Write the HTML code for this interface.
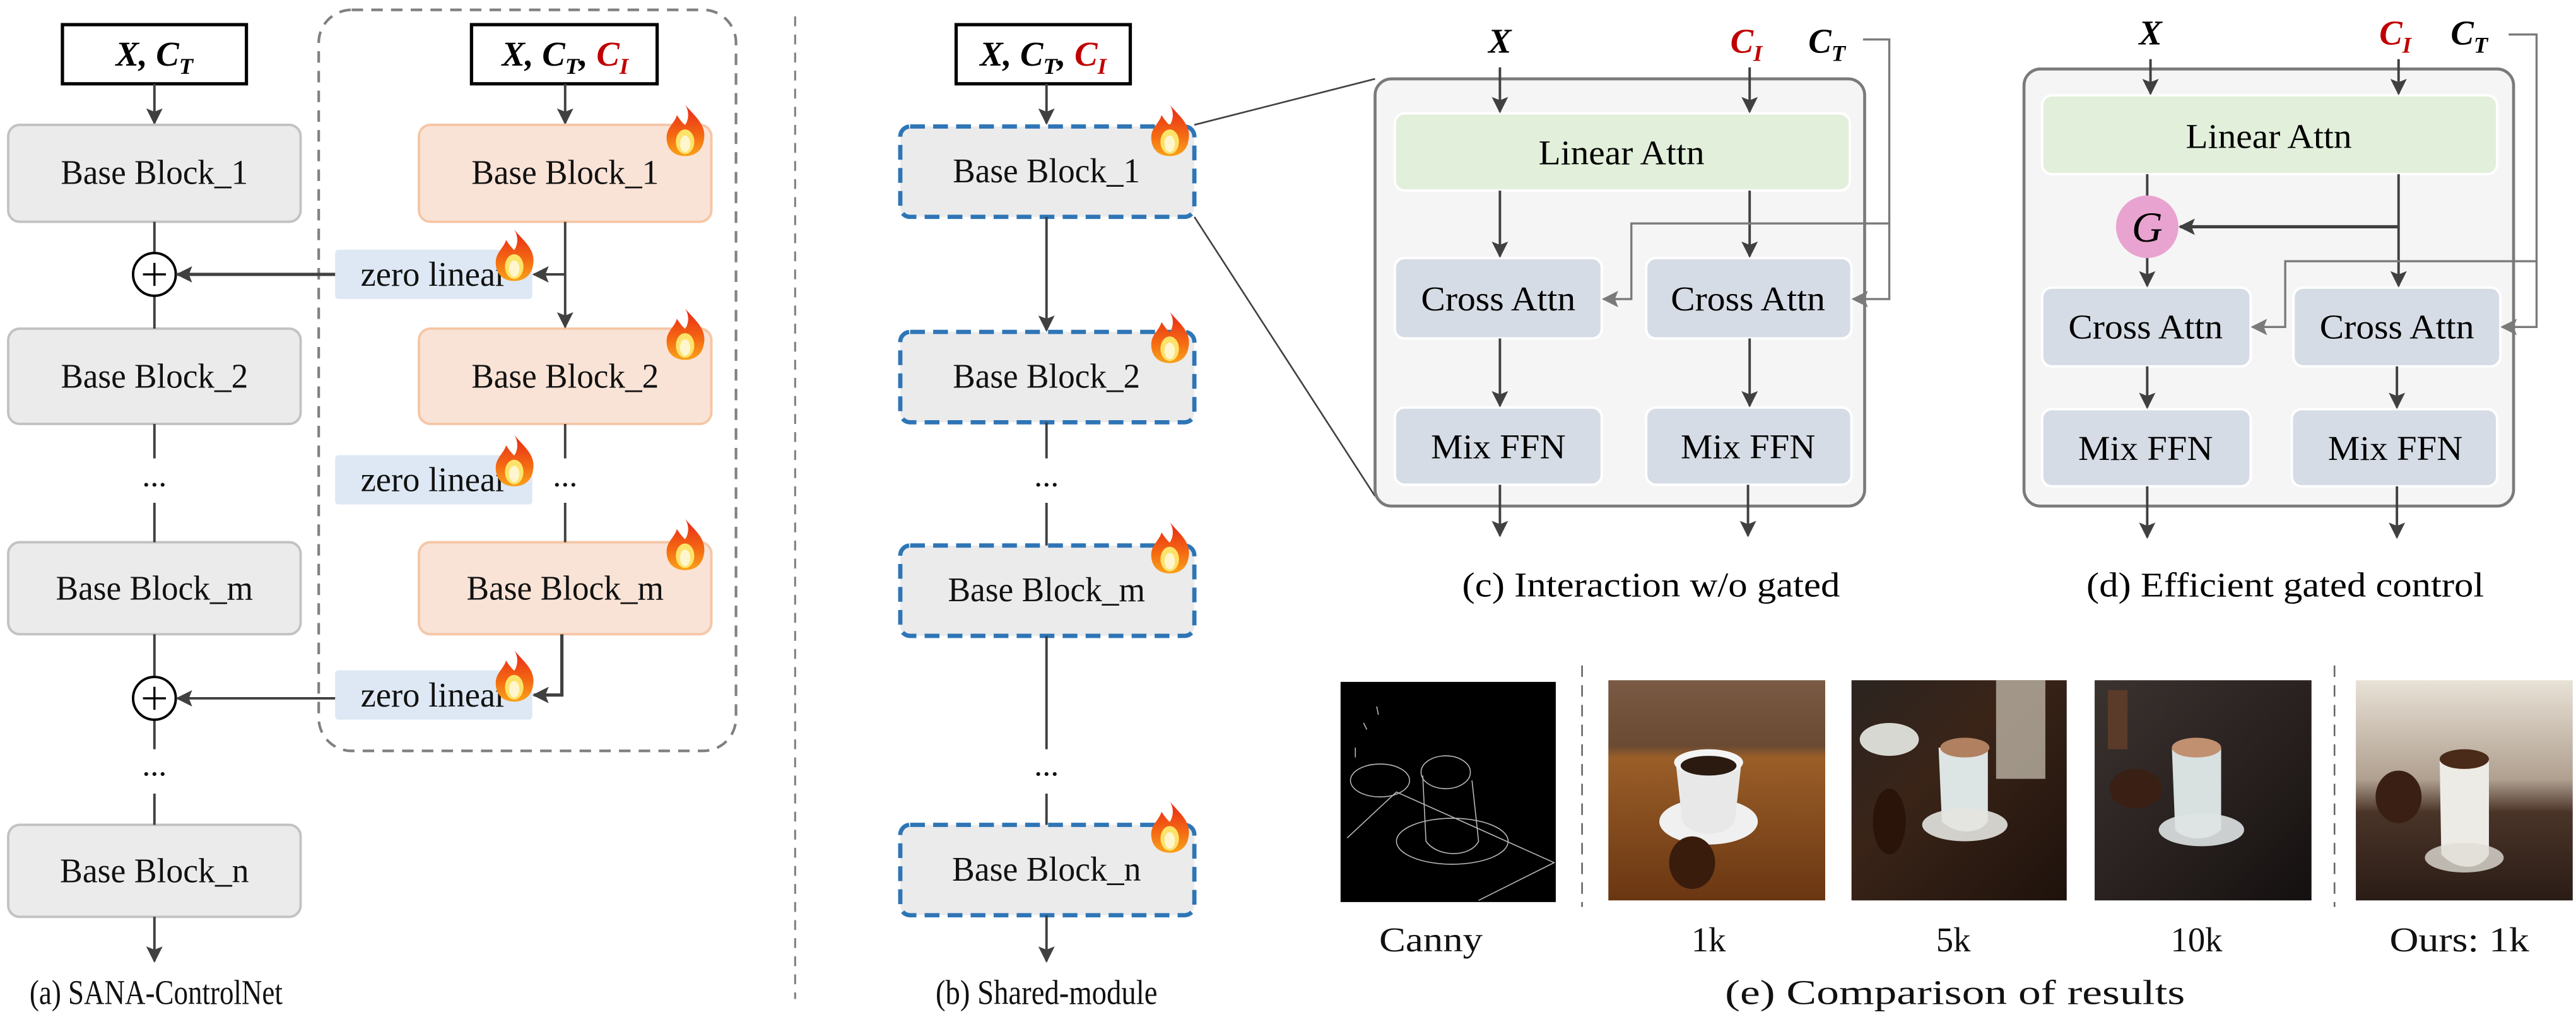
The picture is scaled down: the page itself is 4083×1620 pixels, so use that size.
<!DOCTYPE html>
<html><head><meta charset="utf-8"><style>
html,body{margin:0;padding:0;background:#fff;}
svg{display:block;}
</style></head><body>
<svg width="4083" height="1620" viewBox="0 0 1568 622" preserveAspectRatio="none" xmlns="http://www.w3.org/2000/svg" font-family="'Liberation Serif', serif">
<defs>
<marker id="ah" markerWidth="10" markerHeight="10" refX="9" refY="5" orient="auto" markerUnits="userSpaceOnUse"><path d="M0,0 L10,5 L0,10 L2,5 Z" fill="#404040"/></marker>
<marker id="ag" markerWidth="10" markerHeight="10" refX="9" refY="5" orient="auto" markerUnits="userSpaceOnUse"><path d="M0,0 L10,5 L0,10 L2,5 Z" fill="#7a7a7a"/></marker>
<linearGradient id="fl" x1="0" y1="0" x2="0" y2="1"><stop offset="0" stop-color="#e8261a"/><stop offset="0.6" stop-color="#f46a12"/><stop offset="1" stop-color="#f9a21b"/></linearGradient>
<g id="flame0">
<path d="M0,-13 C5,-7 11,-3 9,5 C8,10 4,12 0,12 C-5,12 -9,9 -9,3 C-9,-2 -5,-4 -4,-8 C-2,-5 -1,-4 0,-3 C2,-6 2,-10 0,-13Z" fill="url(#fl)"/>
<ellipse cx="0" cy="5" rx="4.5" ry="6" fill="#fde36a"/>
<ellipse cx="0" cy="6" rx="2.5" ry="4" fill="#fff6d0"/>
</g>
<g id="flame"><use href="#flame0" transform="scale(1.25)"/></g>
<linearGradient id="wood1" x1="0" y1="0" x2="0" y2="1"><stop offset="0" stop-color="#7a5a44"/><stop offset="0.3" stop-color="#6b4a33"/><stop offset="0.35" stop-color="#9a5e28"/><stop offset="1" stop-color="#6a3612"/></linearGradient>
<linearGradient id="wood2" x1="0" y1="0" x2="1" y2="1"><stop offset="0" stop-color="#2b2420"/><stop offset="0.4" stop-color="#3a2418"/><stop offset="1" stop-color="#1e120c"/></linearGradient>
<linearGradient id="wood3" x1="0" y1="0" x2="1" y2="1"><stop offset="0" stop-color="#3a3330"/><stop offset="0.5" stop-color="#2a2220"/><stop offset="1" stop-color="#141010"/></linearGradient>
<linearGradient id="wood4" x1="0" y1="0" x2="0" y2="1"><stop offset="0" stop-color="#e8e2d6"/><stop offset="0.45" stop-color="#b0a090"/><stop offset="0.6" stop-color="#4a3428"/><stop offset="1" stop-color="#2a1c16"/></linearGradient>
</defs>

<!-- ===== (a) ===== -->
<rect x="194" y="6" width="254" height="451" rx="20" fill="none" stroke="#808080" stroke-width="1.6" stroke-dasharray="7,5"/>
<rect x="38" y="15" width="112" height="36" fill="#fff" stroke="#000" stroke-width="2"/>
<text x="94" y="40" text-anchor="middle" font-size="21" font-weight="bold" font-style="italic">X, C<tspan font-size="14" dy="5">T</tspan></text>
<line x1="94" y1="51" x2="94" y2="75" stroke="#404040" stroke-width="1.5" marker-end="url(#ah)"/>
<g fill="#ebebeb" stroke="#c2c2c2" stroke-width="1.5">
<rect x="5" y="76" width="178" height="59" rx="7"/>
<rect x="5" y="200" width="178" height="58" rx="7"/>
<rect x="5" y="330" width="178" height="56" rx="7"/>
<rect x="5" y="502" width="178" height="56" rx="7"/>
</g>
<g font-size="21" text-anchor="middle" fill="#111" lengthAdjust="spacingAndGlyphs">
<text x="94" y="112" textLength="114" lengthAdjust="spacingAndGlyphs">Base Block_1</text>
<text x="94" y="236" textLength="114" lengthAdjust="spacingAndGlyphs">Base Block_2</text>
<text x="94" y="365" textLength="120" lengthAdjust="spacingAndGlyphs">Base Block_m</text>
<text x="94" y="537" textLength="115" lengthAdjust="spacingAndGlyphs">Base Block_n</text>
</g>
<g stroke="#404040" stroke-width="1.5" fill="none">
<line x1="94" y1="135" x2="94" y2="154"/>
<line x1="94" y1="180" x2="94" y2="200"/>
<line x1="94" y1="258" x2="94" y2="279"/>
<line x1="94" y1="306" x2="94" y2="330"/>
<line x1="94" y1="386" x2="94" y2="412"/>
<line x1="94" y1="438" x2="94" y2="456"/>
<line x1="94" y1="483" x2="94" y2="502"/>
</g>
<line x1="94" y1="558" x2="94" y2="585" stroke="#404040" stroke-width="1.5" marker-end="url(#ah)"/>
<g fill="#fff" stroke="#000" stroke-width="1.5">
<circle cx="94" cy="167" r="13"/><circle cx="94" cy="425" r="13"/>
</g>
<g stroke="#000" stroke-width="1.3"><line x1="87" y1="167" x2="101" y2="167"/><line x1="94" y1="160" x2="94" y2="174"/><line x1="87" y1="425" x2="101" y2="425"/><line x1="94" y1="418" x2="94" y2="432"/></g>
<g font-size="20" text-anchor="middle" fill="#111"><text x="94" y="296">...</text><text x="94" y="472">...</text></g>

<rect x="287" y="15" width="113" height="36" fill="#fff" stroke="#000" stroke-width="2"/>
<text x="344" y="40" text-anchor="middle" font-size="21" font-weight="bold" font-style="italic">X, C<tspan font-size="14" dy="5">T</tspan><tspan dy="-5">, </tspan><tspan fill="#c00000">C</tspan><tspan fill="#c00000" font-size="14" dy="5">I</tspan></text>
<line x1="344" y1="51" x2="344" y2="75" stroke="#404040" stroke-width="1.5" marker-end="url(#ah)"/>
<g fill="#f9e3d6" stroke="#f5c6a6" stroke-width="1.5">
<rect x="255" y="76" width="178" height="59" rx="7"/>
<rect x="255" y="200" width="178" height="58" rx="7"/>
<rect x="255" y="330" width="178" height="56" rx="7"/>
</g>
<g font-size="21" text-anchor="middle" fill="#111">
<text x="344" y="112" textLength="114" lengthAdjust="spacingAndGlyphs">Base Block_1</text>
<text x="344" y="236" textLength="114" lengthAdjust="spacingAndGlyphs">Base Block_2</text>
<text x="344" y="365" textLength="120" lengthAdjust="spacingAndGlyphs">Base Block_m</text>
<text x="344" y="296" font-size="20">...</text>
</g>
<g fill="#dde8f4">
<rect x="204" y="152" width="120" height="30" rx="2"/>
<rect x="204" y="277" width="120" height="30" rx="2"/>
<rect x="204" y="408" width="120" height="30" rx="2"/>
</g>
<g font-size="21" text-anchor="middle" fill="#111">
<text x="264" y="174" textLength="89" lengthAdjust="spacingAndGlyphs">zero linear</text>
<text x="264" y="299" textLength="89" lengthAdjust="spacingAndGlyphs">zero linear</text>
<text x="264" y="430" textLength="89" lengthAdjust="spacingAndGlyphs">zero linear</text>
</g>
<g stroke="#404040" stroke-width="1.5" fill="none">
<line x1="344" y1="135" x2="344" y2="199" marker-end="url(#ah)"/>
<line x1="344" y1="167" x2="325" y2="167" marker-end="url(#ah)"/>
<line x1="204" y1="167" x2="108" y2="167" stroke-width="2" marker-end="url(#ah)"/>
<line x1="344" y1="258" x2="344" y2="279"/>
<line x1="344" y1="306" x2="344" y2="330"/>
<polyline points="342,386 342,423 325,423" marker-end="url(#ah)" stroke-width="2"/>
<line x1="204" y1="425" x2="108" y2="425" stroke-width="1.5" marker-end="url(#ah)"/>
</g>
<use href="#flame" x="417" y="80"/>
<use href="#flame" x="417" y="204"/>
<use href="#flame" x="417" y="332"/>
<use href="#flame" x="313" y="156"/>
<use href="#flame" x="313" y="281"/>
<use href="#flame" x="313" y="412"/>
<text x="95" y="611" text-anchor="middle" font-size="21" fill="#111" textLength="154" lengthAdjust="spacingAndGlyphs">(a) SANA-ControlNet</text>

<line x1="484" y1="10" x2="484" y2="608" stroke="#808080" stroke-width="1.2" stroke-dasharray="6,5"/>

<!-- ===== (b) ===== -->
<rect x="582" y="15" width="106" height="36" fill="#fff" stroke="#000" stroke-width="2"/>
<text x="635" y="40" text-anchor="middle" font-size="21" font-weight="bold" font-style="italic">X, C<tspan font-size="14" dy="5">T</tspan><tspan dy="-5">, </tspan><tspan fill="#c00000">C</tspan><tspan fill="#c00000" font-size="14" dy="5">I</tspan></text>
<line x1="637" y1="51" x2="637" y2="75" stroke="#404040" stroke-width="1.5" marker-end="url(#ah)"/>
<g fill="#ebebeb" stroke="#2e75b6" stroke-width="2.6" stroke-dasharray="9,5">
<rect x="548" y="77" width="179" height="55" rx="6"/>
<rect x="548" y="202" width="179" height="55" rx="6"/>
<rect x="548" y="332" width="179" height="55" rx="6"/>
<rect x="548" y="502" width="179" height="55" rx="6"/>
</g>
<g font-size="21" text-anchor="middle" fill="#111">
<text x="637" y="111" textLength="114" lengthAdjust="spacingAndGlyphs">Base Block_1</text>
<text x="637" y="236" textLength="114" lengthAdjust="spacingAndGlyphs">Base Block_2</text>
<text x="637" y="366" textLength="120" lengthAdjust="spacingAndGlyphs">Base Block_m</text>
<text x="637" y="536" textLength="115" lengthAdjust="spacingAndGlyphs">Base Block_n</text>
<text x="637" y="296" font-size="20">...</text>
<text x="637" y="472" font-size="20">...</text>
</g>
<g stroke="#404040" stroke-width="1.5" fill="none">
<line x1="637" y1="132" x2="637" y2="201" marker-end="url(#ah)"/>
<line x1="637" y1="257" x2="637" y2="279"/>
<line x1="637" y1="306" x2="637" y2="332"/>
<line x1="637" y1="387" x2="637" y2="456"/>
<line x1="637" y1="483" x2="637" y2="502"/>
<line x1="637" y1="557" x2="637" y2="585" marker-end="url(#ah)"/>
</g>
<use href="#flame" x="712" y="80"/>
<use href="#flame" x="712" y="206"/>
<use href="#flame" x="712" y="334"/>
<use href="#flame" x="712" y="504"/>
<text x="637" y="611" text-anchor="middle" font-size="21" fill="#111" textLength="135" lengthAdjust="spacingAndGlyphs">(b) Shared-module</text>
<line x1="727" y1="76" x2="837" y2="48" stroke="#404040" stroke-width="1"/>
<line x1="727" y1="132" x2="837" y2="302" stroke="#404040" stroke-width="1"/>

<!-- ===== (c) ===== -->
<rect x="837" y="48" width="298" height="260" rx="10" fill="#f5f5f5" stroke="#7a7a7a" stroke-width="1.8"/>
<rect x="849" y="69" width="277" height="47" rx="6" fill="#e2efda" stroke="#fff" stroke-width="1.5"/>
<text x="987" y="100" text-anchor="middle" font-size="21" textLength="101" lengthAdjust="spacingAndGlyphs">Linear Attn</text>
<g fill="#d6dce5" stroke="#fff" stroke-width="1.5">
<rect x="849" y="157" width="126" height="49" rx="6"/><rect x="1002" y="157" width="125" height="49" rx="6"/>
<rect x="849" y="248" width="126" height="47" rx="6"/><rect x="1002" y="248" width="125" height="47" rx="6"/>
</g>
<g font-size="21" text-anchor="middle">
<text x="912" y="189" textLength="94" lengthAdjust="spacingAndGlyphs">Cross Attn</text><text x="1064" y="189" textLength="94" lengthAdjust="spacingAndGlyphs">Cross Attn</text>
<text x="912" y="279" textLength="82" lengthAdjust="spacingAndGlyphs">Mix FFN</text><text x="1064" y="279" textLength="82" lengthAdjust="spacingAndGlyphs">Mix FFN</text>
</g>
<g font-size="21" font-weight="bold" font-style="italic" text-anchor="middle">
<text x="913" y="32">X</text>
<text x="1063" y="32" fill="#c00000">C<tspan font-size="14" dy="5">I</tspan></text>
<text x="1112" y="32">C<tspan font-size="14" dy="5">T</tspan></text>
</g>
<g stroke="#404040" stroke-width="1.5" fill="none">
<line x1="913" y1="41" x2="913" y2="68" marker-end="url(#ah)"/>
<line x1="1065" y1="41" x2="1065" y2="68" marker-end="url(#ah)"/>
<line x1="913" y1="116" x2="913" y2="156" marker-end="url(#ah)"/>
<line x1="1065" y1="116" x2="1065" y2="156" marker-end="url(#ah)"/>
<line x1="913" y1="206" x2="913" y2="247" marker-end="url(#ah)"/>
<line x1="1065" y1="206" x2="1065" y2="247" marker-end="url(#ah)"/>
<line x1="913" y1="295" x2="913" y2="326" marker-end="url(#ah)"/>
<line x1="1064" y1="295" x2="1064" y2="326" marker-end="url(#ah)"/>
</g>
<g stroke="#7a7a7a" stroke-width="1.3" fill="none">
<polyline points="1134,24 1150,24 1150,182 1128,182" marker-end="url(#ag)"/>
<polyline points="1150,136 993,136 993,182 976,182" marker-end="url(#ag)"/>
</g>
<text x="1005" y="363" text-anchor="middle" font-size="21" textLength="230" lengthAdjust="spacingAndGlyphs">(c) Interaction w/o gated</text>

<!-- ===== (d) ===== -->
<rect x="1232" y="42" width="298" height="266" rx="10" fill="#f5f5f5" stroke="#7a7a7a" stroke-width="1.8"/>
<rect x="1243" y="58" width="277" height="48" rx="6" fill="#e2efda" stroke="#fff" stroke-width="1.5"/>
<text x="1381" y="90" text-anchor="middle" font-size="21" textLength="101" lengthAdjust="spacingAndGlyphs">Linear Attn</text>
<g fill="#d6dce5" stroke="#fff" stroke-width="1.5">
<rect x="1243" y="175" width="127" height="48" rx="6"/><rect x="1396" y="175" width="126" height="48" rx="6"/>
<rect x="1243" y="249" width="127" height="47" rx="6"/><rect x="1395" y="249" width="125" height="47" rx="6"/>
</g>
<g font-size="21" text-anchor="middle">
<text x="1306" y="206" textLength="94" lengthAdjust="spacingAndGlyphs">Cross Attn</text><text x="1459" y="206" textLength="94" lengthAdjust="spacingAndGlyphs">Cross Attn</text>
<text x="1306" y="280" textLength="82" lengthAdjust="spacingAndGlyphs">Mix FFN</text><text x="1458" y="280" textLength="82" lengthAdjust="spacingAndGlyphs">Mix FFN</text>
</g>
<g font-size="21" font-weight="bold" font-style="italic" text-anchor="middle">
<text x="1309" y="27">X</text>
<text x="1458" y="27" fill="#c00000">C<tspan font-size="14" dy="5">I</tspan></text>
<text x="1503" y="27">C<tspan font-size="14" dy="5">T</tspan></text>
</g>
<g stroke="#404040" stroke-width="1.5" fill="none">
<line x1="1309" y1="36" x2="1309" y2="57" marker-end="url(#ah)"/>
<line x1="1460" y1="36" x2="1460" y2="57" marker-end="url(#ah)"/>
<line x1="1307" y1="106" x2="1307" y2="120"/>
<line x1="1460" y1="106" x2="1460" y2="174" marker-end="url(#ah)"/>
<line x1="1460" y1="138" x2="1327" y2="138" stroke-width="2" marker-end="url(#ah)"/>
<line x1="1307" y1="157" x2="1307" y2="174" marker-end="url(#ah)"/>
<line x1="1307" y1="223" x2="1307" y2="248" marker-end="url(#ah)"/>
<line x1="1459" y1="223" x2="1459" y2="248" marker-end="url(#ah)"/>
<line x1="1307" y1="296" x2="1307" y2="327" marker-end="url(#ah)"/>
<line x1="1459" y1="296" x2="1459" y2="327" marker-end="url(#ah)"/>
</g>
<ellipse cx="1307" cy="138" rx="19" ry="19" fill="#e9a3d0"/>
<text x="1307" y="147" text-anchor="middle" font-size="26" font-style="italic">G</text>
<g stroke="#7a7a7a" stroke-width="1.3" fill="none">
<polyline points="1527,21 1544,21 1544,199 1523,199" marker-end="url(#ag)"/>
<polyline points="1544,159 1391,159 1391,199 1371,199" marker-end="url(#ag)"/>
</g>
<text x="1391" y="363" text-anchor="middle" font-size="21" textLength="242" lengthAdjust="spacingAndGlyphs">(d) Efficient gated control</text>

<!-- ===== (e) ===== -->
<rect x="816" y="415" width="131" height="134" fill="#000"/>
<g stroke="#bbb" stroke-width="0.6" fill="none">
<ellipse cx="880" cy="470" rx="15" ry="10"/>
<path d="M866,472 L868,512 C875,522 895,522 900,512 L896,475"/>
<ellipse cx="884" cy="512" rx="34" ry="14"/>
<ellipse cx="840" cy="475" rx="18" ry="10"/>
<path d="M820,510 L850,482 L946,525 L900,548"/>
<path d="M830,440 l2,4 M838,430 l1,5 M825,455 l0,6"/>
</g>
<line x1="963" y1="405" x2="963" y2="552" stroke="#666" stroke-width="1" stroke-dasharray="7,5"/>
<rect x="979" y="414" width="132" height="134" fill="url(#wood1)"/>
<ellipse cx="1040" cy="500" rx="30" ry="14" fill="#f0f0f0"/>
<path d="M1020,464 L1024,500 C1030,510 1050,510 1056,500 L1060,464 Z" fill="#e8e8e8"/>
<ellipse cx="1040" cy="464" rx="21" ry="8" fill="#f4f4f4"/>
<ellipse cx="1040" cy="466" rx="17" ry="6" fill="#2a1a10"/>
<ellipse cx="1030" cy="525" rx="14" ry="16" fill="#3a1c0c"/>
<rect x="1127" y="414" width="131" height="134" fill="url(#wood2)"/>
<rect x="1215" y="414" width="30" height="60" fill="#cfc7b8" opacity="0.7"/>
<ellipse cx="1150" cy="450" rx="18" ry="10" fill="#d8d8d2"/>
<path d="M1180,455 L1182,500 C1190,508 1205,508 1210,500 L1210,455 Z" fill="#dde4e4"/>
<ellipse cx="1196" cy="455" rx="15" ry="6" fill="#b08060"/>
<ellipse cx="1196" cy="502" rx="26" ry="10" fill="#e4e4e0" opacity="0.9"/>
<ellipse cx="1150" cy="500" rx="10" ry="20" fill="#2a140a"/>
<rect x="1275" y="414" width="132" height="134" fill="url(#wood3)"/>
<rect x="1283" y="420" width="12" height="36" fill="#5a3a28"/>
<ellipse cx="1300" cy="480" rx="16" ry="12" fill="#3a2014"/>
<path d="M1322,455 L1324,505 C1330,512 1345,512 1352,505 L1352,455 Z" fill="#d8e0e0"/>
<ellipse cx="1337" cy="455" rx="15" ry="6" fill="#c09070"/>
<ellipse cx="1340" cy="505" rx="26" ry="10" fill="#dfe3e3" opacity="0.9"/>
<line x1="1421" y1="405" x2="1421" y2="552" stroke="#666" stroke-width="1" stroke-dasharray="7,5"/>
<rect x="1434" y="414" width="132" height="134" fill="url(#wood4)"/>
<ellipse cx="1460" cy="485" rx="14" ry="16" fill="#3a2014"/>
<path d="M1485,462 L1486,520 C1495,530 1510,530 1515,520 L1515,462 Z" fill="#ecebe6"/>
<ellipse cx="1500" cy="462" rx="15" ry="6" fill="#4a2a18"/>
<ellipse cx="1500" cy="522" rx="24" ry="9" fill="#e0ddd6" opacity="0.8"/>
<g font-size="21" text-anchor="middle" fill="#111">
<text x="871" y="579" textLength="63" lengthAdjust="spacingAndGlyphs">Canny</text>
<text x="1040" y="579">1k</text>
<text x="1189" y="579">5k</text>
<text x="1337" y="579">10k</text>
<text x="1497" y="579" textLength="85" lengthAdjust="spacingAndGlyphs">Ours: 1k</text>
<text x="1190" y="611" textLength="280" lengthAdjust="spacingAndGlyphs">(e) Comparison of results</text>
</g>
</svg>
</body></html>
